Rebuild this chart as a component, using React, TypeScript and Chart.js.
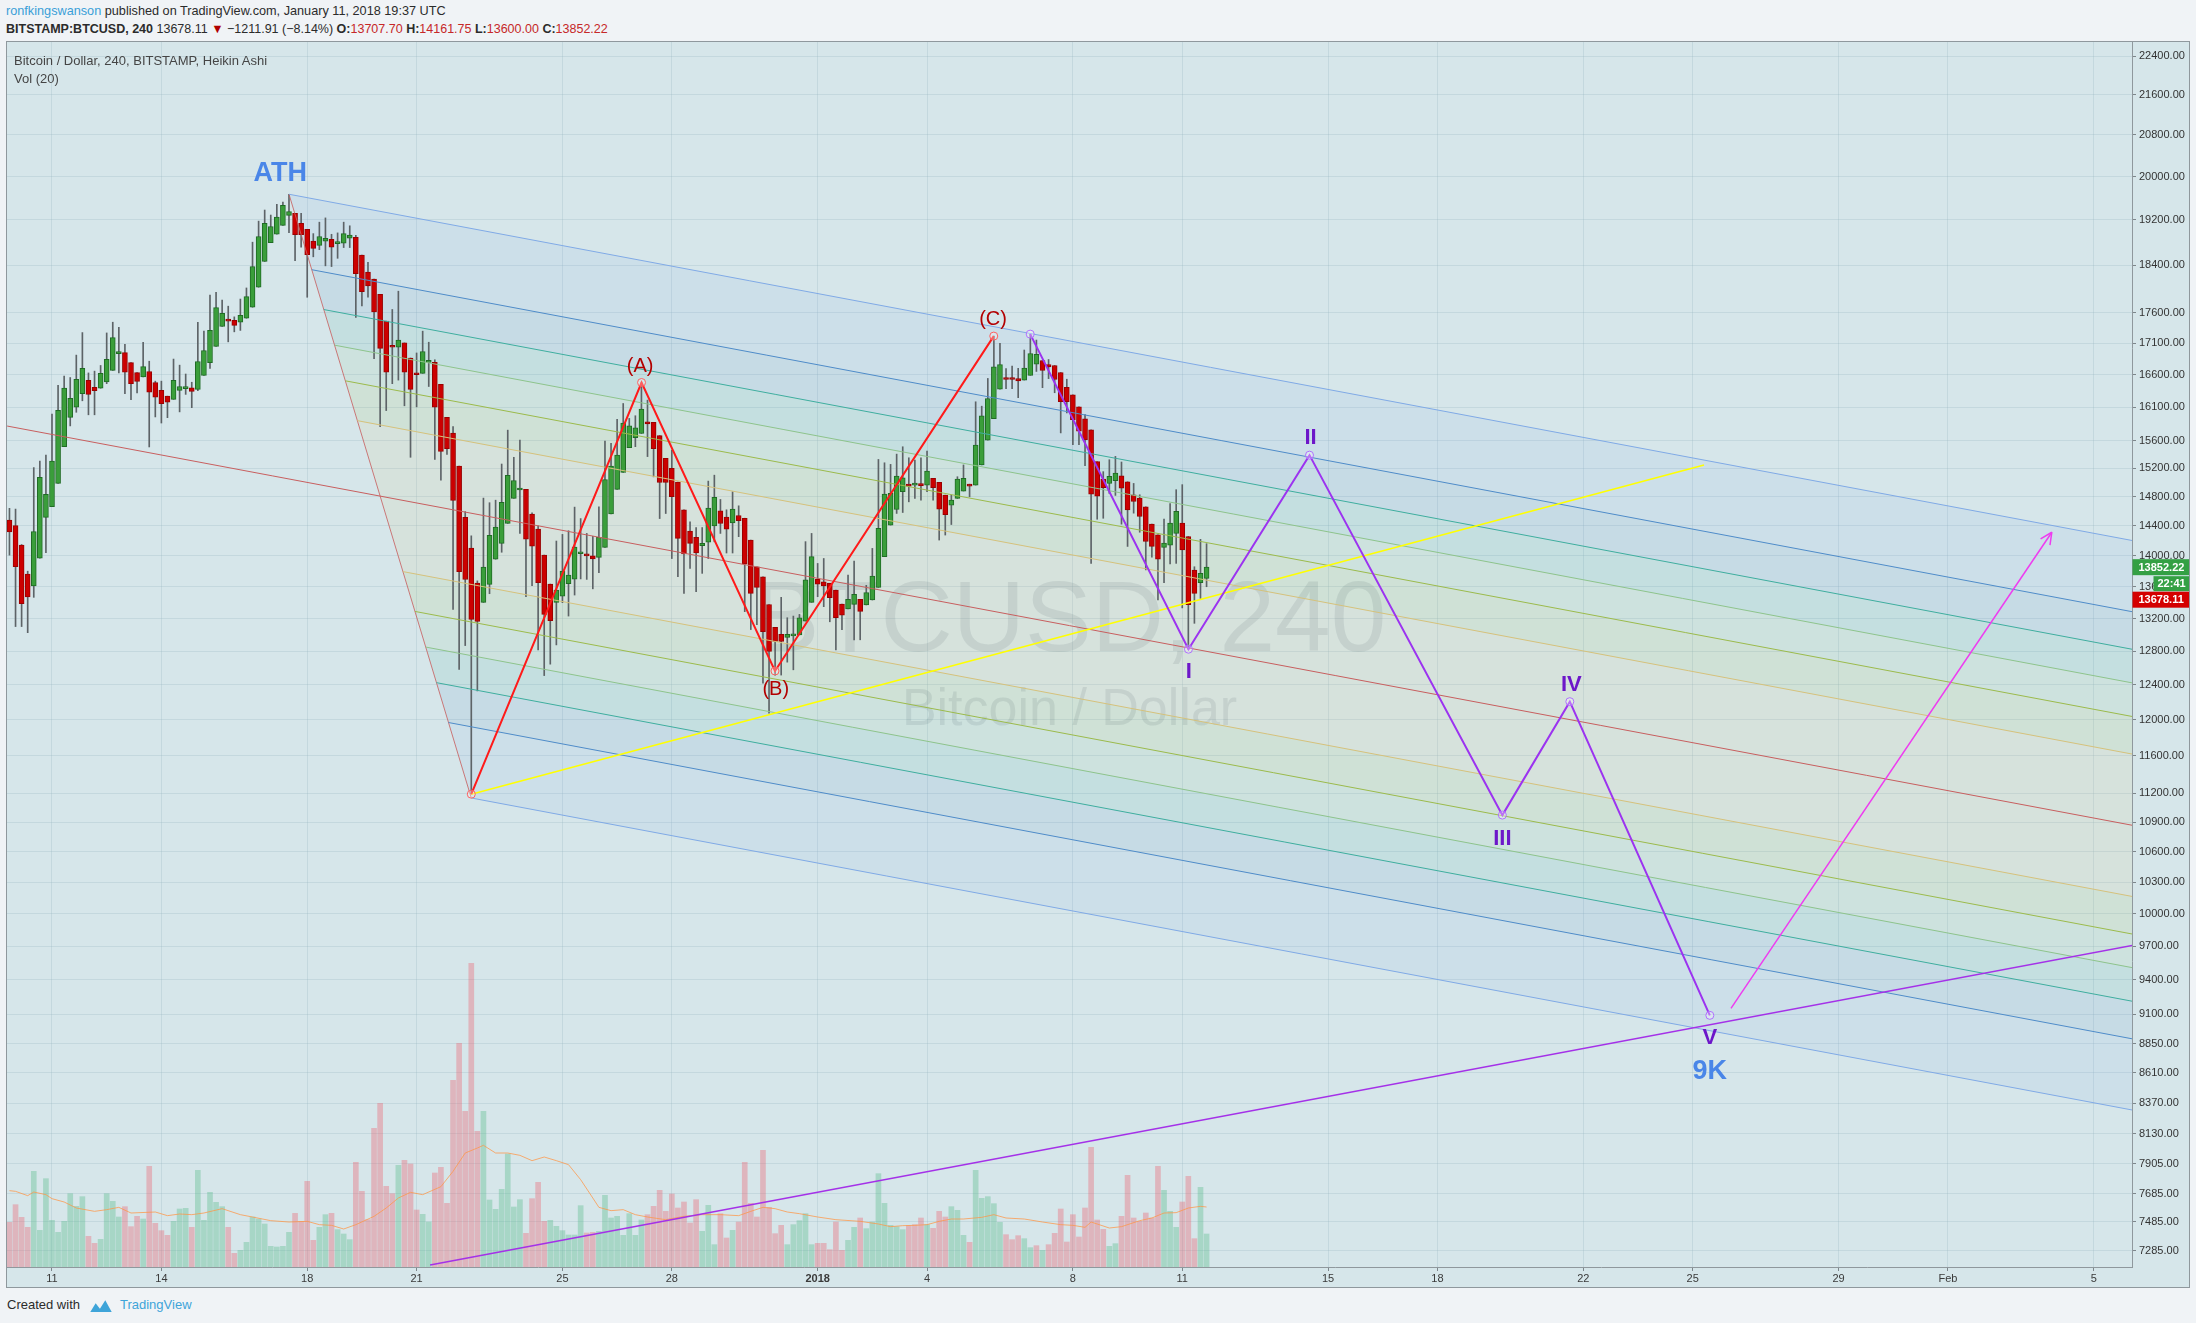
import React, { useEffect, useRef } from 'react';
import { Chart, registerables } from 'chart.js';

Chart.register(...registerables);

// ---------------- DATA ----------------
// 4h Heikin Ashi bars, first bar = 2017-12-09 20:00 UTC; x unit = days since 2017-12-11 00:00 UTC
const barsBeforeDec11 = 7;
const barsPerDay = 6;

const candleOpen = [
  14478, 14405, 14142, 13762, 13611, 13970, 14517, 14664, 14988, 15515,
  15948, 16100, 16307, 16511, 16406, 16390, 16489, 16667, 16932, 16949,
  16789, 16633, 16566, 16650, 16478, 16357, 16269, 16220, 16357, 16384,
  16395, 16373, 16589, 16789, 17046, 17370, 17469, 17469, 17440, 17505,
  17687, 18023, 18465, 18796, 18943, 19102, 19283, 19321, 19140, 19031,
  18821, 18746, 18821, 18853, 18777, 18784, 18872, 18891, 18577, 18280,
  18163, 17902, 17457, 17052, 17035, 17104, 16863, 16628, 16622, 16795,
  16795, 16450, 15948, 15715, 15232, 14517, 14104, 13648, 13401, 13630,
  13956, 14166, 14434, 14779, 14895, 14903, 14560, 14357, 14011, 13634,
  13402, 13481, 13639, 13698, 14028, 14025, 14000, 13980, 14112, 14563,
  14903, 15143, 15500, 15646, 15708, 15882, 15872, 15677, 15345, 15201,
  15005, 14620, 14330, 14245, 14135, 14183, 14399, 14606, 14519, 14442,
  14542, 14505, 14210, 13858, 13728, 13375, 13090, 13005, 12966, 12986,
  12998, 13168, 13402, 13694, 13664, 13643, 13557, 13380, 13318, 13377,
  13439, 13369, 13431, 13592, 13990, 14411, 14624, 14870, 14963, 14963,
  14970, 14963, 15058, 15002, 14823, 14685, 14777, 14880, 14977, 14963,
  15250, 15610, 15927, 16375, 16540, 16540, 16540, 16517, 16591, 16764,
  16823, 16760, 16745, 16635, 16403, 16290, 16107, 15927, 15762, 15297,
  15050, 14986, 15025, 15096, 15011, 14828, 14782, 14661, 14425, 14281,
  14112, 14142, 14299, 14439, 14258, 13815, 13651, 13707.7,
];
const candleHigh = [
  14640, 14630, 14150, 13800, 15212, 15304, 15392, 15998, 16437, 16578,
  16556, 16909, 17271, 16628, 16656, 16745, 17265, 17440, 17358, 17081,
  16789, 16633, 17115, 16812, 16500, 16500, 16269, 16846, 16750, 16611,
  16483, 17440, 17294, 17890, 17938, 17806, 17705, 17528, 17824, 18011,
  18803, 19179, 19380, 19289, 19485, 19524, 19669, 19321, 19321, 19031,
  18955, 19160, 19237, 18943, 18968, 19160, 19095, 18923, 18577, 18452,
  18163, 17902, 17457, 17650, 17956, 17104, 16863, 16943, 17294, 17115,
  16835, 16450, 15948, 15810, 15232, 14595, 14265, 13675, 14782, 14718,
  14753, 15263, 15757, 15360, 15610, 14903, 14578, 14402, 14011, 13634,
  14197, 14286, 14335, 14657, 14500, 14299, 14260, 14662, 15596, 15563,
  15917, 16157, 15932, 15972, 16479, 16208, 15872, 15677, 15345, 15463,
  15005, 14620, 14455, 14378, 14378, 15020, 15104, 14763, 14620, 14870,
  14675, 14505, 14210, 13858, 13728, 13375, 13090, 13465, 13209, 13230,
  13251, 14189, 14299, 13901, 13966, 13643, 13557, 13380, 13750, 13931,
  13439, 13618, 14099, 15329, 15281, 15258, 15406, 15513, 15353, 15320,
  15353, 15450, 15058, 15002, 14823, 14823, 15082, 15250, 14977, 16183,
  16116, 16542, 17214, 17096, 16697, 16736, 16700, 16990, 17246, 17150,
  16823, 16839, 16745, 16635, 16530, 16290, 16107, 15988, 15762, 15297,
  15154, 15325, 15373, 15292, 15011, 14987, 14828, 14661, 14425, 14281,
  14492, 14707, 14899, 14970, 14258, 13858, 14220, 14161.75,
];
const candleLow = [
  14010, 13100, 13100, 13025, 13465, 13970, 14044, 14664, 14988, 15515,
  15820, 16024, 16198, 15986, 15986, 16390, 16461, 16667, 16628, 16307,
  16214, 16318, 16566, 15510, 15954, 15863, 15943, 16220, 16030, 16296,
  16094, 16351, 16589, 16700, 17046, 17370, 17121, 17283, 17306, 17505,
  17687, 18023, 18465, 18796, 18943, 19102, 18974, 18477, 18715, 17854,
  18546, 18671, 18389, 18377, 18520, 18708, 18708, 17517, 17711, 17854,
  16852, 15810, 16050, 16461, 16516, 16122, 15360, 16106, 16622, 16417,
  15329, 15034, 15400, 13312, 12583, 12868, 11190, 12331, 13401, 13511,
  13956, 14048, 14434, 14779, 14299, 13473, 13612, 12816, 12510, 12645,
  12876, 13398, 13230, 13494, 13700, 13694, 13573, 13780, 14112, 14563,
  14903, 15143, 15500, 15514, 15708, 15370, 15080, 14500, 14569, 13965,
  13728, 13515, 13836, 13536, 13772, 13965, 14187, 14299, 14038, 14038,
  14255, 13285, 13063, 13124, 12420, 12076, 12516, 12516, 12669, 12578,
  12998, 13168, 13402, 13473, 13347, 13159, 12816, 13063, 13318, 12938,
  12938, 13369, 13431, 13592, 13990, 14411, 14570, 14583, 14730, 14777,
  14754, 14870, 14754, 14210, 14277, 14419, 14777, 14880, 14800, 14963,
  15250, 15610, 15927, 16375, 16385, 16385, 16246, 16517, 16591, 16651,
  16399, 16539, 16321, 15716, 16014, 15545, 15545, 15240, 13902, 14491,
  14504, 14847, 14819, 14424, 14125, 14574, 14315, 13817, 13984, 13431,
  13651, 13894, 13902, 13332, 12824, 13140, 13452, 13600,
];
const candleClose = [
  14320, 13860, 13384, 13470, 14325, 15075, 14833, 15304, 16052, 16392,
  16237, 16528, 16700, 16296, 16351, 16622, 16841, 17190, 16966, 16639,
  16461, 16494, 16728, 16329, 16252, 16155, 16176, 16511, 16417, 16395,
  16340, 16807, 16983, 17306, 17681, 17587, 17457, 17387, 17552, 17866,
  18378, 18904, 19140, 19082, 19250, 19465, 19354, 18936, 18936, 18583,
  18695, 18904, 18872, 18715, 18790, 18955, 18930, 18255, 17950, 18047,
  17610, 17017, 16639, 17035, 17150, 16639, 16373, 16600, 16966, 16807,
  16100, 15444, 15485, 14749, 13795, 13693, 13188, 13162, 13852, 14272,
  14383, 14724, 15101, 15029, 14910, 14223, 14130, 13651, 13251, 13172,
  13557, 13803, 13751, 14118, 14046, 14000, 13960, 14245, 15043, 15234,
  15393, 15862, 15822, 15792, 16071, 15848, 15485, 15000, 15000, 14801,
  14233, 14025, 14165, 14038, 14165, 14643, 14791, 14433, 14357, 14630,
  14470, 13895, 13515, 13592, 13037, 12796, 12917, 12917, 13005, 13005,
  13209, 13688, 13990, 13634, 13609, 13461, 13209, 13240, 13439, 13503,
  13289, 13524, 13737, 14366, 14837, 14847, 15091, 15067, 14950, 14977,
  14956, 15161, 14927, 14629, 14552, 14754, 15048, 15058, 14950, 15537,
  15970, 16233, 16724, 16760, 16525, 16525, 16504, 16703, 16935, 16922,
  16666, 16724, 16525, 16185, 16185, 15912, 15743, 15615, 14835, 14807,
  14929, 15087, 15135, 14919, 14620, 14735, 14528, 14191, 14125, 13958,
  14170, 14439, 14599, 14079, 13371, 13516, 13772, 13852.22,
];

const volume = [
  1340, 1870, 1490, 1190, 2870, 1100, 2650, 1400, 1040, 1370,
  2200, 1820, 2110, 920, 710, 830, 2200, 1970, 1500, 1810,
  1210, 1520, 1440, 3020, 1310, 1090, 950, 1370, 1740, 1760,
  1190, 2900, 1400, 2240, 1940, 1810, 1190, 410, 500, 740,
  1500, 1440, 1290, 620, 600, 620, 1040, 1610, 1370, 2570,
  800, 1190, 1570, 1610, 1120, 990, 820, 3140, 2270, 1420,
  4160, 4910, 2420, 2200, 3050, 3200, 3090, 1710, 1580, 1350,
  2820, 2990, 1910, 5600, 6710, 4670, 9110, 4070, 4670, 2010,
  1730, 2330, 3390, 1800, 2020, 1010, 2050, 2540, 1370, 1400,
  1220, 1090, 960, 960, 1840, 1020, 1040, 1070, 2150, 1470,
  1520, 950, 1600, 950, 1410, 1570, 1820, 2300, 1670, 2190,
  1770, 1950, 1320, 2020, 1070, 1850, 670, 1600, 870, 1100,
  1350, 3140, 1910, 1500, 3500, 1790, 1000, 1250, 670, 1270,
  1390, 1600, 670, 710, 710, 520, 1350, 500, 800, 1190,
  1470, 1150, 1350, 2800, 1910, 1250, 1210, 1120, 1240, 1270,
  1470, 1270, 1160, 1670, 1500, 1810, 1700, 950, 740, 2900,
  2060, 2110, 1900, 1340, 970, 820, 940, 850, 580, 640,
  500, 670, 1010, 1740, 750, 1570, 900, 1770, 3590, 1410,
  1130, 620, 700, 1520, 2750, 1470, 1370, 1620, 1470, 3020,
  2300, 1670, 1190, 1950, 2720, 850, 2390, 990,
];
const volumeSide = (
  'rrrr' + 'ggggggggg' + 'rr' + 'gggg' + 'rrr' + 'g' + 'rrrr' + 'ggg' + 'r' + 'ggggg' + 'rr' +
  'ggggggggg' + 'rrrr' + 'gg' + 'r' + 'ggg' + 'rrrrrrr' + 'g' + 'rrr' + 'gg' + 'rrrrrrrr' +
  'ggggggg' + 'rrrr' + 'gggggg' + 'rr' + 'gggggggg' + 'rrrrrrrrr' + 'ggg' + 'rr' + 'g' +
  'rrrrrrrr' + 'ggggg' + 'rrrrr' + 'gg' + 'r' + 'ggggggg' + 'rrr' + 'g' + 'rrr' + 'ggg' + 'r' +
  'ggggg' + 'rrr' + 'gg' + 'r' + 'g' + 'rrrrrrrrrr' + 'gg' + 'rrrrrrr' + 'ggg' + 'rrr' + 'gg'
).split('');

const volMaBar = [0, 1, 3, 4, 6, 7, 9, 11, 14, 16, 18, 20, 24, 26, 28, 30, 32, 35, 38, 40, 43, 46, 49, 51, 53, 55, 57, 60, 62, 64, 66, 68, 71, 73, 75, 77, 78, 80, 82, 84, 86, 88, 90, 92, 94, 96, 97, 99, 101, 103, 105, 108, 111, 114, 117, 120, 122, 124, 126, 128, 130, 133, 136, 140, 143, 145, 147, 149, 151, 153, 155, 157, 160, 162, 164, 167, 170, 173, 175, 177, 178, 179, 181, 183, 186, 188, 190, 192, 194, 196, 197];
const volMaValue = [2290, 2270, 2140, 2250, 2170, 2050, 1950, 1770, 1670, 1720, 1790, 1620, 1650, 1540, 1590, 1570, 1620, 1750, 1570, 1500, 1390, 1350, 1370, 1270, 1250, 1140, 1270, 1520, 1770, 2070, 2240, 2170, 2410, 2870, 3420, 3570, 3650, 3420, 3420, 3350, 3190, 3300, 3190, 3070, 2620, 2070, 1790, 1690, 1720, 1570, 1500, 1420, 1520, 1570, 1570, 1540, 1670, 1790, 1750, 1650, 1600, 1500, 1420, 1370, 1290, 1210, 1240, 1250, 1270, 1370, 1440, 1440, 1490, 1570, 1470, 1440, 1350, 1270, 1250, 1190, 1350, 1290, 1170, 1210, 1390, 1470, 1620, 1630, 1770, 1820, 1800];

const timeTickDays = [0, 3, 7, 10, 14, 17, 21, 24, 28, 31, 35, 38, 42, 45, 49, 52, 56];
const timeTickLabels = ['11', '14', '18', '21', '25', '28', '2018', '4', '8', '11', '15', '18', '22', '25', '29', 'Feb', '5'];
const priceTicks = [22400, 21600, 20800, 20000, 19200, 18400, 17600, 17100, 16600, 16100, 15600, 15200, 14800, 14400, 14000, 13600, 13200, 12800, 12400, 12000, 11600, 11200, 10900, 10600, 10300, 10000, 9700, 9400, 9100, 8850, 8610, 8370, 8130, 7905, 7685, 7485, 7285];

const lastPrice = 13678.11;
const lastClose = 13852.22;
const countdown = '22:41';

// Andrews pitchfork anchors [day, price]
const pitchforkHandle = [-1.23, 15818];
const pitchforkUpper = [6.5, 19670];
const pitchforkLower = [11.5, 11150];
const pitchforkLevels = [0.25, 0.382, 0.5, 0.618, 0.75, 1];

// Wave drawings [days], [prices]
const abcDays = [11.5, 16.17, 19.83, 25.83];
const abcPrices = [11190, 16479, 12564, 17214];
const impulseDays = [26.83, 31.17, 34.49, 39.78, 41.63, 45.47];
const impulsePrices = [17246, 12824, 15391, 10972, 12207, 9089];
const yellowDays = [11.5, 45.31];
const yellowPrices = [11190, 15250];
const trendDays = [10.37, 57.2];
const trendPrices = [7188, 9715];
const arrowDays = [46.05, 54.85];
const arrowPrices = [9149, 14315];

const labelTexts = ['ATH', '(A)', '(B)', '(C)', 'I', 'II', 'III', 'IV', 'V', '9K'];
const labelDays = [6.26, 16.13, 19.85, 25.81, 31.18, 34.52, 39.78, 41.67, 45.47, 45.47];
const labelPrices = [20054, 16723, 12353, 17488, 12550, 15637, 10729, 12402, 8900, 8623];
const labelKinds = ['blue', 'red', 'red', 'red', 'roman', 'roman', 'roman', 'roman', 'roman', 'blue'];

// ---------------- STYLE / GEOMETRY ----------------
const X_MIN = -1.2342;
const X_MAX = 57.049;
const Y_MIN = 7174;
const Y_MAX = 22697;
const VOL_MAX = 36750;
const FONT = '"Liberation Sans", Arial, sans-serif';
const PANE_BG = '#d6e6ea';

const levelColors = ['#d6c27c', '#9cbb4c', '#8ec48c', '#3fae9f', '#4f8cc9', '#80aae6'];
const labelStyles: Record<string, { font: string; color: string }> = {
  blue: { font: `bold 27px ${FONT}`, color: '#4a86e8' },
  red: { font: `20px ${FONT}`, color: '#b30000' },
  roman: { font: `bold 22px ${FONT}`, color: '#6d17c9' },
};

const barDay = (k: number) => (k - barsBeforeDec11) / barsPerDay;

type P = { x: number; y: number };
function buildPitchfork() {
  const lh = Math.log(pitchforkHandle[1]);
  const lu = Math.log(pitchforkUpper[1]);
  const ll = Math.log(pitchforkLower[1]);
  const md = (pitchforkUpper[0] + pitchforkLower[0]) / 2;
  const ml = (lu + ll) / 2;
  const slope = (ml - lh) / (md - pitchforkHandle[0]);
  const make = (d: number, l: number) => ({
    start: { x: d, y: Math.exp(l) } as P,
    end: { x: X_MAX, y: Math.exp(l + slope * (X_MAX - d)) } as P,
  });
  const upper = pitchforkLevels.map((L) => make(md + L * (pitchforkUpper[0] - md), ml + L * (lu - ml)));
  const lower = pitchforkLevels.map((L) => make(md + L * (pitchforkLower[0] - md), ml + L * (ll - ml)));
  const median = make(md, ml);
  return { upper, lower, median };
}
const pf = buildPitchfork();

const overlayPlugin = {
  id: 'tvOverlay',
  beforeDraw(chart: any) {
    const { ctx } = chart;
    ctx.save();
    ctx.fillStyle = PANE_BG;
    ctx.fillRect(0, 0, chart.width, chart.height);
    ctx.restore();
  },
  beforeDatasetsDraw(chart: any) {
    const { ctx, chartArea: a } = chart;
    const xs = chart.scales.x;
    const ys = chart.scales.y;
    const px = (p: P) => [xs.getPixelForValue(p.x), ys.getPixelForValue(p.y)];
    ctx.save();
    ctx.beginPath();
    ctx.rect(a.left, a.top, a.right - a.left, a.bottom - a.top);
    ctx.clip();
    // watermark
    const cx = (a.left + a.right) / 2;
    ctx.fillStyle = 'rgba(90,110,120,0.15)';
    ctx.textAlign = 'center';
    ctx.textBaseline = 'middle';
    ctx.font = `100px ${FONT}`;
    ctx.fillText('BTCUSD, 240', cx, a.top + 581);
    ctx.font = `52px ${FONT}`;
    ctx.fillText('Bitcoin / Dollar', cx, a.top + 669);
    // pitchfork fills
    const seq: { line: any; lvl: number }[] = [];
    for (let i = pf.upper.length - 1; i >= 0; i--) seq.push({ line: pf.upper[i], lvl: i });
    seq.push({ line: pf.median, lvl: -1 });
    for (let i = 0; i < pf.lower.length; i++) seq.push({ line: pf.lower[i], lvl: i });
    for (let i = 0; i < seq.length - 1; i++) {
      const A = seq[i], B = seq[i + 1];
      const outer = Math.max(A.lvl, B.lvl);
      const c = levelColors[outer];
      const [x1, y1] = px(A.line.start), [x2, y2] = px(A.line.end);
      const [x3, y3] = px(B.line.end), [x4, y4] = px(B.line.start);
      ctx.beginPath();
      ctx.moveTo(x1, y1); ctx.lineTo(x2, y2); ctx.lineTo(x3, y3); ctx.lineTo(x4, y4); ctx.closePath();
      ctx.globalAlpha = 0.12;
      ctx.fillStyle = c;
      ctx.fill();
      ctx.globalAlpha = 1;
    }
    ctx.restore();
  },
  afterDatasetsDraw(chart: any) {
    const { ctx, chartArea: a } = chart;
    const xs = chart.scales.x;
    const ys = chart.scales.y;
    ctx.save();
    ctx.beginPath();
    ctx.rect(a.left, a.top, a.right - a.left, a.bottom - a.top);
    ctx.clip();
    // arrow head
    const sx = xs.getPixelForValue(arrowDays[0]), sy = ys.getPixelForValue(arrowPrices[0]);
    const ex = xs.getPixelForValue(arrowDays[1]), ey = ys.getPixelForValue(arrowPrices[1]);
    const ang = Math.atan2(ey - sy, ex - sx);
    ctx.strokeStyle = '#ee3cf0';
    ctx.lineWidth = 1.5;
    ctx.beginPath();
    for (const s of [-1, 1]) {
      ctx.moveTo(ex, ey);
      ctx.lineTo(ex - 13 * Math.cos(ang + s * 0.45), ey - 13 * Math.sin(ang + s * 0.45));
    }
    ctx.stroke();
    // labels
    ctx.textAlign = 'center';
    ctx.textBaseline = 'middle';
    labelTexts.forEach((t, i) => {
      const st = labelStyles[labelKinds[i]];
      ctx.font = st.font;
      ctx.fillStyle = st.color;
      ctx.fillText(t, xs.getPixelForValue(labelDays[i]), ys.getPixelForValue(labelPrices[i]));
    });
    ctx.restore();
  },
  afterDraw(chart: any) {
    const { ctx, chartArea: a } = chart;
    const ys = chart.scales.y;
    const gy = ys.getPixelForValue(lastClose);
    const x0 = a.right + 0.5;
    const box = (x: number, cy: number, h: number, bg: string, txt: string, pad: number) => {
      ctx.fillStyle = bg;
      ctx.fillRect(x, cy - h / 2, chart.width - x, h);
      ctx.fillStyle = '#ffffff';
      ctx.font = `bold 11px ${FONT}`;
      ctx.textAlign = 'left';
      ctx.textBaseline = 'middle';
      ctx.fillText(txt, x + pad, cy + 0.5);
    };
    ctx.save();
    box(x0, gy, 16, '#34a044', lastClose.toFixed(2), 6);
    box(x0 + 21, gy + 16.5, 15, '#34a044', countdown, 4);
    box(x0, gy + 32.5, 16, '#d40000', lastPrice.toFixed(2), 6);
    ctx.restore();
  },
};

function lineDs(points: P[], color: string, width: number, order: number, extra: any = {}) {
  return {
    type: 'line',
    data: points,
    borderColor: color,
    borderWidth: width,
    pointRadius: 0,
    fill: false,
    tension: 0,
    yAxisID: 'y',
    order,
    ...extra,
  };
}

export default function App() {
  const ref = useRef<HTMLCanvasElement>(null);

  useEffect(() => {
    document.body.style.margin = '0';
    const days = candleOpen.map((_, k) => barDay(k));
    const up = candleOpen.map((o, k) => candleClose[k] >= o);

    const datasets: any[] = [];
    datasets.push({
      type: 'bar',
      data: volume.map((v, k) => ({ x: barDay(k), y: v })),
      backgroundColor: volumeSide.map((s) => (s === 'g' ? 'rgba(83,185,135,0.36)' : 'rgba(239,83,96,0.33)')),
      barThickness: 5,
      grouped: false,
      yAxisID: 'yv',
      order: 60,
    });
    datasets.push({
      type: 'line',
      data: volMaBar.map((k, i) => ({ x: barDay(k), y: volMaValue[i] })),
      borderColor: 'rgba(255,150,70,0.75)',
      borderWidth: 1,
      pointRadius: 0,
      tension: 0,
      yAxisID: 'yv',
      order: 55,
    });
    datasets.push({
      type: 'bar',
      data: days.map((d, k) => ({ x: d, y: [candleLow[k], candleHigh[k]] })),
      backgroundColor: '#5d6367',
      barThickness: 1,
      grouped: false,
      yAxisID: 'y',
      order: 50,
    });
    datasets.push({
      type: 'bar',
      data: days.map((d, k) => ({ x: d, y: [candleOpen[k], candleClose[k]] })),
      backgroundColor: up.map((u) => (u ? '#3a9e3a' : '#cc0000')),
      borderColor: up.map((u) => (u ? '#1f6b24' : '#9a0000')),
      borderWidth: 1,
      borderSkipped: false,
      barThickness: 5,
      minBarLength: 2,
      grouped: false,
      yAxisID: 'y',
      order: 45,
    });

    // pitchfork lines
    pf.upper.forEach((l, i) => datasets.push(lineDs([l.start, l.end], levelColors[i], 1, 40)));
    pf.lower.forEach((l, i) => datasets.push(lineDs([l.start, l.end], levelColors[i], 1, 40)));
    datasets.push(
      lineDs([{ x: pitchforkHandle[0], y: pitchforkHandle[1] }, pf.median.end], '#c85f5f', 1, 40)
    );
    datasets.push(lineDs([pf.upper[pf.upper.length - 1].start, pf.lower[pf.lower.length - 1].start], 'rgba(200,100,100,0.85)', 1, 40));

    datasets.push(lineDs(trendDays.map((d, i) => ({ x: d, y: trendPrices[i] })), '#a431e8', 1.6, 30));
    datasets.push(lineDs(yellowDays.map((d, i) => ({ x: d, y: yellowPrices[i] })), '#ffff00', 1.6, 30));
    datasets.push(lineDs(arrowDays.map((d, i) => ({ x: d, y: arrowPrices[i] })), '#ee3cf0', 1.5, 30));
    datasets.push(
      lineDs(abcDays.map((d, i) => ({ x: d, y: abcPrices[i] })), '#ff1a1a', 2, 20, {
        pointRadius: 4,
        pointBorderWidth: 1,
        pointBorderColor: '#ff6060',
        pointBackgroundColor: 'rgba(255,255,255,0.3)',
      })
    );
    datasets.push(
      lineDs(impulseDays.map((d, i) => ({ x: d, y: impulsePrices[i] })), '#9c33f0', 2, 20, {
        pointRadius: 4,
        pointBorderWidth: 1,
        pointBorderColor: '#b070ff',
        pointBackgroundColor: 'rgba(255,255,255,0.3)',
      })
    );

    const gridColor = 'rgba(150,178,190,0.28)';
    const chart = new Chart(ref.current as HTMLCanvasElement, {
      type: 'bar',
      data: { datasets },
      options: {
        animation: false,
        responsive: false,
        devicePixelRatio: 1,
        events: [],
        layout: { padding: 0, autoPadding: false },
        plugins: { legend: { display: false }, tooltip: { enabled: false } },
        scales: {
          x: {
            type: 'linear',
            min: X_MIN,
            max: X_MAX,
            offset: false,
            position: 'bottom',
            grid: { color: gridColor, offset: false, tickLength: 4, tickColor: '#7d868b' },
            border: { display: true, color: '#8f989d', width: 1 },
            afterBuildTicks: (s: any) => {
              s.ticks = timeTickDays.map((v) => ({ value: v }));
            },
            afterFit: (s: any) => {
              s.height = 20;
              s.paddingLeft = 0;
              s.paddingRight = 0;
            },
            ticks: {
              autoSkip: false,
              maxRotation: 0,
              padding: 1,
              color: '#3a3a3a',
              font: (c: any) => ({
                family: FONT,
                size: 11,
                weight: c.tick && c.tick.label === '2018' ? 'bold' : 'normal',
              }),
              callback: (v: any) => {
                const i = timeTickDays.indexOf(Number(v));
                return i >= 0 ? timeTickLabels[i] : '';
              },
            },
          },
          y: {
            type: 'logarithmic',
            position: 'right',
            min: Y_MIN,
            max: Y_MAX,
            grid: { color: gridColor, tickLength: 4, tickColor: '#7d868b' },
            border: { display: true, color: '#8f989d', width: 1 },
            afterBuildTicks: (s: any) => {
              s.ticks = priceTicks.map((v) => ({ value: v }));
            },
            afterFit: (s: any) => {
              s.width = 57;
              s.paddingTop = 0;
              s.paddingBottom = 0;
            },
            ticks: {
              autoSkip: false,
              padding: 3,
              color: '#333333',
              font: { family: FONT, size: 11 },
              callback: (v: any) => Number(v).toFixed(2),
            },
          },
          yv: {
            type: 'linear',
            display: false,
            min: 0,
            max: VOL_MAX,
          },
        },
      } as any,
      plugins: [overlayPlugin as any],
    } as any);
    return () => chart.destroy();
  }, []);

  const red = { color: '#c62828' };
  return (
    <div
      style={{
        position: 'absolute',
        left: 0,
        top: 0,
        width: 2196,
        height: 1323,
        background: '#f0f3f6',
        fontFamily: FONT,
        overflow: 'hidden',
        color: '#2b2b2b',
      }}
    >
      <div style={{ position: 'absolute', left: 6, top: 4, fontSize: 12.7, lineHeight: '15px', whiteSpace: 'nowrap' }}>
        <span style={{ color: '#3a9fd8' }}>ronfkingswanson</span> published on TradingView.com, January 11, 2018 19:37 UTC
      </div>
      <div style={{ position: 'absolute', left: 6, top: 22, fontSize: 12.5, lineHeight: '15px', whiteSpace: 'nowrap' }}>
        <b>BITSTAMP:BTCUSD, 240</b> 13678.11 <span style={{ color: '#b00000' }}>▼</span> −1211.91 (−8.14%){' '}
        <b>O:</b>
        <span style={red}>13707.70</span> <b>H:</b>
        <span style={red}>14161.75</span> <b>L:</b>
        <span style={red}>13600.00</span> <b>C:</b>
        <span style={red}>13852.22</span>
      </div>
      <div
        style={{
          position: 'absolute',
          left: 6,
          top: 41,
          width: 2182,
          height: 1245,
          border: '1px solid #8f989d',
          background: PANE_BG,
        }}
      >
        <canvas
          ref={ref}
          width={2182}
          height={1245}
          style={{ position: 'absolute', left: 0, top: 0, width: 2182, height: 1245, display: 'block' }}
        />
        <div style={{ position: 'absolute', left: 7, top: 11, fontSize: 13, lineHeight: '15px', color: '#454545', zIndex: 2, whiteSpace: 'nowrap' }}>
          Bitcoin / Dollar, 240, BITSTAMP, Heikin Ashi
        </div>
        <div style={{ position: 'absolute', left: 7, top: 29, fontSize: 13, lineHeight: '15px', color: '#454545', zIndex: 2 }}>
          Vol (20)
        </div>
      </div>
      <div style={{ position: 'absolute', left: 7, top: 1297, fontSize: 13, lineHeight: '16px', display: 'flex', alignItems: 'center', whiteSpace: 'nowrap' }}>
        <span>Created with</span>
        <svg width="24" height="15" viewBox="0 0 22 14" style={{ marginLeft: 9, marginRight: 7 }}>
          <path d="M1 13 L6 5 L10 10 L15 2 L21 13 Z" fill="#3ea4d9" />
        </svg>
        <span style={{ color: '#3ea4d9' }}>TradingView</span>
      </div>
    </div>
  );
}
